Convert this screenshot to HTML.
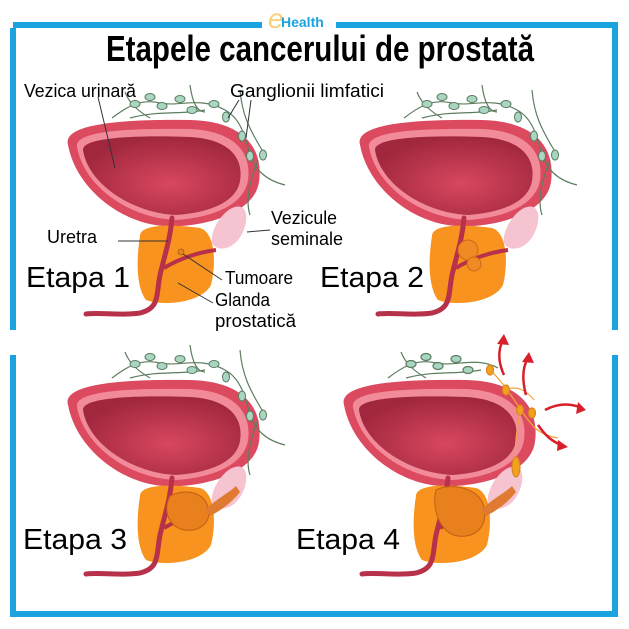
<!DOCTYPE html>
<html><head><meta charset="utf-8"><style>
html,body{margin:0;padding:0;background:#fff;}
svg{display:block}
text{font-family:"Liberation Sans",sans-serif;}
</style></head><body>
<svg width="629" height="629" viewBox="0 0 629 629" xmlns="http://www.w3.org/2000/svg">
<defs>
<radialGradient id="cav" cx="0.55" cy="0.6" r="0.6"><stop offset="0" stop-color="#d8475e"/><stop offset="1" stop-color="#a0273e"/></radialGradient>
<g id="bl">
  <path d="M68,145 C62,124 120,119 190,120 C240,121 264,145 259,182 C255,210 215,224 180,226 L164,226 C120,223 76,188 68,145 Z" fill="#dc4a60"/>
  <path d="M77,147 C74,131 128,128 190,129 C234,131 252,152 248,180 C244,207 208,218 176,220 C128,218 84,186 77,147Z" fill="#f28b99"/>
  <path d="M83,150 C82,138 130,135 190,137 C228,139 244,157 240,181 C236,204 205,213 176,215 C132,213 88,184 83,150Z" fill="url(#cav)"/>
  <path d="M232,208 C250,200 250,225 238,240 C228,252 215,250 212,243 C210,232 220,214 232,208Z" fill="#f6c3d1"/>
  <path d="M140,236 C140,224 172,224 200,228 C216,233 216,265 211,285 C201,304 160,306 146,300 C135,285 137,255 140,236Z" fill="#f7931e"/>
  <path d="M172,218 C170,240 166,250 160,275 C156,295 160,308 140,313 C120,316 100,312 86,314" stroke="#b8314a" stroke-width="5" fill="none" stroke-linecap="round"/>
  <path d="M164,268 C180,258 200,252 216,250" stroke="#b8314a" stroke-width="4" fill="none"/>
</g>
<g id="ln" stroke="#5d7d5f" stroke-width="1.2" fill="none">
  <path d="M112,118 C125,108 140,98 160,103 C180,107 200,96 225,110 C240,118 245,135 250,155 C256,170 265,180 285,185"/>
  <path d="M125,92 C130,105 140,112 150,118 M190,85 C192,100 196,112 205,112 M240,90 C242,115 250,130 262,150 M258,160 C250,180 245,200 250,215 M130,118 C160,110 180,115 205,110"/>
  <g fill="#a9d6c2" stroke="#5d7d5f" stroke-width="1">
   <ellipse cx="135" cy="104" rx="5" ry="3.5"/><ellipse cx="150" cy="97" rx="5" ry="3.5"/><ellipse cx="162" cy="106" rx="5" ry="3.5"/>
   <ellipse cx="180" cy="99" rx="5" ry="3.5"/><ellipse cx="192" cy="110" rx="5" ry="3.5"/><ellipse cx="214" cy="104" rx="5" ry="3.5"/>
   <ellipse cx="226" cy="117" rx="3.5" ry="5"/><ellipse cx="242" cy="136" rx="3.5" ry="5"/><ellipse cx="250" cy="156" rx="3.5" ry="5"/><ellipse cx="263" cy="155" rx="3.5" ry="5"/>
  </g>
</g>
</defs>
<path d="M13,28 L13,330 M13,355 L13,614 L615,614 L615,355 M615,330 L615,25 L13,25" stroke="#1aa3de" stroke-width="6" fill="none"/>
<rect x="262" y="10" width="74" height="22" fill="#fff"/>
<text x="268" y="28" font-family="Liberation Serif,serif" font-style="italic" font-size="28" fill="#f5d37a">e</text>
<text x="281" y="27" font-size="14" font-weight="bold" fill="#1aa3de">Health</text>
<text x="106" y="61" font-size="36" font-weight="bold" fill="#000" textLength="428" lengthAdjust="spacingAndGlyphs">Etapele cancerului de prostată</text>

<use href="#bl"/><use href="#ln"/>
<circle cx="181" cy="252" r="3" fill="#e8821c" stroke="#a85a10" stroke-width="0.8"/>
<g transform="translate(292,0)"><use href="#bl"/><use href="#ln"/>
 <circle cx="176" cy="250" r="10" fill="#f08a22" stroke="#c96a18"/><circle cx="182" cy="264" r="7" fill="#f08a22" stroke="#c96a18"/></g>
<g transform="translate(0,260)"><use href="#bl"/><use href="#ln"/>
 <path d="M170,236 C185,228 205,232 208,248 C212,262 200,272 185,270 C170,268 162,252 170,236Z" fill="#e9801e" stroke="#c25e15"/>
 <path d="M205,250 C215,240 230,232 236,226 L240,232 C232,242 222,250 210,256Z" fill="#e07a30"/></g>
<g transform="translate(276,260)"><use href="#bl"/>
 <g stroke="#5d7d5f" stroke-width="1.2" fill="none"><path d="M112,118 C125,108 140,98 160,103 C180,107 200,96 222,108 M125,92 C130,105 140,112 150,118 M130,118 C160,110 180,115 205,110"/>
 <g fill="#a9d6c2"><ellipse cx="135" cy="104" rx="5" ry="3.5"/><ellipse cx="150" cy="97" rx="5" ry="3.5"/><ellipse cx="162" cy="106" rx="5" ry="3.5"/><ellipse cx="180" cy="99" rx="5" ry="3.5"/><ellipse cx="192" cy="110" rx="5" ry="3.5"/></g></g>
 <g stroke="#f3a43a" stroke-width="1.2" fill="none"><path d="M214,110 C225,120 235,135 245,150 C255,165 262,175 282,178 M230,130 C240,125 250,130 258,140 M245,150 C240,170 238,190 240,210"/>
 <g fill="#f2a020" stroke="#d9861a"><ellipse cx="214" cy="110" rx="3.5" ry="5"/><ellipse cx="230" cy="130" rx="3.5" ry="5"/><ellipse cx="244" cy="150" rx="3.5" ry="5"/><ellipse cx="256" cy="153" rx="3.5" ry="5"/><ellipse cx="240" cy="207" rx="4" ry="10"/></g></g>
 <path d="M160,230 C175,222 205,228 208,248 C212,268 198,278 182,276 C165,274 155,250 160,230Z" fill="#e9801e" stroke="#c25e15"/>
 <path d="M205,250 C215,240 230,232 236,226 L240,232 C232,242 222,250 210,256Z" fill="#e07a30"/>
</g>
<g stroke="#d8202a" stroke-width="2.5" fill="none">
 <path d="M504,375 C498,362 498,350 503,340"/><path d="M526,395 C522,380 522,368 528,358"/><path d="M545,410 C558,403 570,403 582,408"/><path d="M538,425 C545,435 552,442 562,445"/>
</g>
<g fill="#d8202a"><path d="M497,344 L504,334 L509,345Z"/><path d="M522,362 L529,352 L534,363Z"/><path d="M578,402 L586,410 L576,414Z"/><path d="M558,440 L568,447 L557,451Z"/></g>

<g fill="#000" font-size="18">
<text x="24" y="97" textLength="112" lengthAdjust="spacingAndGlyphs">Vezica urinară</text>
<text x="230" y="97" textLength="154" lengthAdjust="spacingAndGlyphs">Ganglionii limfatici</text>
<text x="47" y="243" textLength="50" lengthAdjust="spacingAndGlyphs">Uretra</text>
<text x="271" y="224" textLength="66" lengthAdjust="spacingAndGlyphs">Vezicule</text>
<text x="271" y="245" textLength="72" lengthAdjust="spacingAndGlyphs">seminale</text>
<text x="225" y="284" textLength="68" lengthAdjust="spacingAndGlyphs">Tumoare</text>
<text x="215" y="306" textLength="55" lengthAdjust="spacingAndGlyphs">Glanda</text>
<text x="215" y="327" textLength="81" lengthAdjust="spacingAndGlyphs">prostatică</text>
</g>
<g stroke="#333" stroke-width="1" fill="none">
<path d="M98,97 L115,168 M239,100 L228,118 M251,100 L246,138 M118,241 L168,241 M247,232 L270,230 M183,254 L222,280 M178,283 L213,303"/>
</g>
<g font-size="29" fill="#000">
<text x="26" y="287" textLength="104" lengthAdjust="spacingAndGlyphs">Etapa 1</text><text x="320" y="287" textLength="104" lengthAdjust="spacingAndGlyphs">Etapa 2</text>
<text x="23" y="549" textLength="104" lengthAdjust="spacingAndGlyphs">Etapa 3</text><text x="296" y="549" textLength="104" lengthAdjust="spacingAndGlyphs">Etapa 4</text>
</g>
</svg>
</body></html>
